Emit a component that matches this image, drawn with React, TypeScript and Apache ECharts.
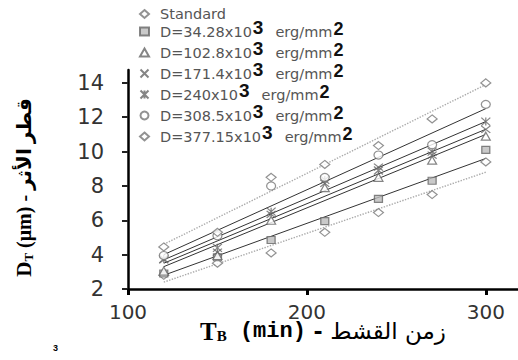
import React, { useEffect, useRef } from 'react';
import * as echarts from 'echarts';

const times = [120, 150, 180, 210, 240, 270, 300];
const seriesNames = ['Standard', 'D=34.28x10', 'D=102.8x10', 'D=171.4x10', 'D=240x10', 'D=308.5x10', 'D=377.15x10'];
const standard = [2.8, 3.5, 4.1, 5.3, 6.45, 7.5, 9.4];
const d34 = [2.9, 3.85, 4.85, 5.95, 7.25, 8.3, 10.1];
const d102 = [3.05, 3.95, 6.0, 7.9, 8.5, 9.5, 10.9];
const d171 = [3.7, 4.15, 6.35, 8.15, 9.1, 9.8, 11.3];
const d240 = [3.75, 4.4, 6.5, 8.35, 8.9, 10.0, 11.75];
const d308 = [3.95, 5.1, 8.0, 8.5, 9.8, 10.4, 12.75];
const d377 = [4.45, 5.3, 8.5, 9.25, 10.35, 11.9, 14.0];
const allValues = [standard, d34, d102, d171, d240, d308, d377];

// fitted line end values at first and last time
const fitX = [120, 300];
const fitStandard = [2.4, 8.8];
const fit34 = [2.8, 9.6];
const fit102 = [3.3, 11.0];
const fit171 = [3.5, 11.3];
const fit240 = [3.7, 11.75];
const fit308 = [4.0, 12.5];
const fit377 = [4.6, 13.9];
const allFits = [fitStandard, fit34, fit102, fit171, fit240, fit308, fit377];

const yTicks = { min: 2, max: 14.75, interval: 2 };
const xTicks = { min: 100, max: 318, interval: 100 };

const X_SYM = 'path://M0,0L10,10M10,0L0,10';
const AST_SYM = 'path://M0,0L10,10M10,0L0,10M5,0L5,10';

const symbols = ['diamond', 'rect', 'triangle', X_SYM, AST_SYM, 'circle', 'diamond'];
const symbolSizes: any[] = [[10, 8], [8, 7], [9, 8], [9, 7], [9, 8], [9, 8], [10, 8]];
const fills = ['#fff', '#bbb', '#fff', '#666', '#666', '#fff', '#fff'];
const strokes = ['#777', '#666', '#666', '#666', '#666', '#777', '#777'];

export default function App() {
  const ref = useRef<HTMLDivElement>(null);
  useEffect(() => {
    if (!ref.current) return;
    const chart = echarts.init(ref.current, null, { renderer: 'svg' });
    const scatterSeries = seriesNames.map((name, i) => ({
      name,
      type: 'scatter',
      symbol: symbols[i],
      symbolSize: symbolSizes[i],
      z: 3,
      itemStyle: { color: fills[i], borderColor: strokes[i], borderWidth: 1.2 },
      data: times.map((t, j) => [t, allValues[i][j]]),
    }));
    const lineSeries = allFits.map((f, i) => ({
      type: 'line',
      symbol: 'none',
      silent: true,
      z: 2,
      lineStyle: i === 0 || i === 6
        ? { color: '#aaa', width: 1.4, type: 'dotted' }
        : { color: '#333', width: 1 },
      data: fitX.map((x, j) => [x, f[j]]),
    }));
    chart.setOption({
      animation: false,
      grid: { left: 128, right: 0, top: 70, bottom: 71, containLabel: false },
      legend: {
        data: seriesNames,
        orient: 'vertical',
        left: 134,
        top: -1,
        itemWidth: 9,
        itemHeight: 8,
        itemGap: -6,
        formatter: (name: string) =>
          name === 'Standard' ? name : `${name}{s|3}{u|erg/mm}{t|2}`,
        textStyle: {
          fontFamily: 'DejaVu Sans',
          fontSize: 14.5,
          color: '#555',
          lineHeight: 20,
          padding: [0, 0, 0, 6],
          rich: {
            s: { fontFamily: 'Liberation Sans Narrow, Liberation Sans', fontWeight: 'bold', fontSize: 19, color: '#111', lineHeight: 12, padding: [0, 0, 8, 1] },
            u: { fontFamily: 'DejaVu Sans', fontSize: 14.5, color: '#555', lineHeight: 20, padding: [0, 0, 0, 12] },
            t: { fontFamily: 'Liberation Sans Narrow, Liberation Sans', fontWeight: 'bold', fontSize: 18, color: '#111', lineHeight: 14, padding: [0, 0, 5, 1] },
          },
        },
      },
      xAxis: {
        type: 'value',
        min: xTicks.min,
        max: xTicks.max,
        interval: xTicks.interval,
        splitLine: { show: false },
        axisLine: { show: true, lineStyle: { color: '#000', width: 2.5 } },
        axisTick: { show: true, length: 6, lineStyle: { color: '#000', width: 3 } },
        axisLabel: { showMaxLabel: false, margin: 14, lineHeight: 17, fontFamily: 'DejaVu Sans', fontSize: 20, color: '#333' },
        name: '{t|T}{b|B}{m| (min)}{a| - }{ar|زمن القشط}',
        nameLocation: 'middle',
        nameGap: 31,
        nameMoveOverlap: false,
        nameTextStyle: {
          rich: {
            t: { fontFamily: 'Liberation Serif', fontWeight: 'bold', fontSize: 25, color: '#000', lineHeight: 22 },
            b: { fontFamily: 'Liberation Serif', fontWeight: 'bold', fontSize: 15, color: '#000', lineHeight: 13, padding: [9, 0, 0, 0] },
            m: { fontFamily: 'Liberation Mono', fontWeight: 'bold', fontSize: 22, color: '#000', lineHeight: 22 },
            a: { fontFamily: 'DejaVu Sans', fontWeight: 'bold', fontSize: 22, color: '#000', lineHeight: 22 },
            ar: { fontFamily: 'DejaVu Sans', fontSize: 23, color: '#000', lineHeight: 22 },
          },
        },
      },
      yAxis: {
        type: 'value',
        min: yTicks.min,
        max: yTicks.max,
        interval: yTicks.interval,
        splitLine: { show: false },
        axisLine: { show: true, lineStyle: { color: '#000', width: 2.5 } },
        axisTick: { show: true, length: 6, lineStyle: { color: '#222', width: 2 } },
        axisLabel: { showMaxLabel: false, margin: 24, fontFamily: 'DejaVu Sans', fontSize: 21, color: '#333' },
        name: '{d|D}{sub|T}{n| (μm) - قطر الأثر}',
        nameLocation: 'middle',
        nameGap: 92,
        nameMoveOverlap: false,
        nameTextStyle: {
          padding: [0, 16, 0, 0],
          rich: {
            d: { fontFamily: 'Liberation Serif', fontWeight: 'bold', fontSize: 21, color: '#000', lineHeight: 24 },
            sub: { fontFamily: 'Liberation Serif', fontWeight: 'bold', fontSize: 13, color: '#000', lineHeight: 13, padding: [9, 0, 0, 0] },
            n: { fontFamily: 'Liberation Serif, DejaVu Sans', fontWeight: 'bold', fontSize: 20, color: '#000', lineHeight: 24 },
          },
        },
      },
      graphic: [
        { type: 'text', left: 53, top: 343, style: { text: '3', fontSize: 9, fontWeight: 'bold', fill: '#000', fontFamily: 'Liberation Sans' } },
      ],
      series: [...lineSeries, ...scatterSeries],
    });
    return () => chart.dispose();
  }, []);
  return <div ref={ref} style={{ position: 'fixed', left: 0, top: 0, width: 518, height: 360, background: '#fff' }} />;
}
